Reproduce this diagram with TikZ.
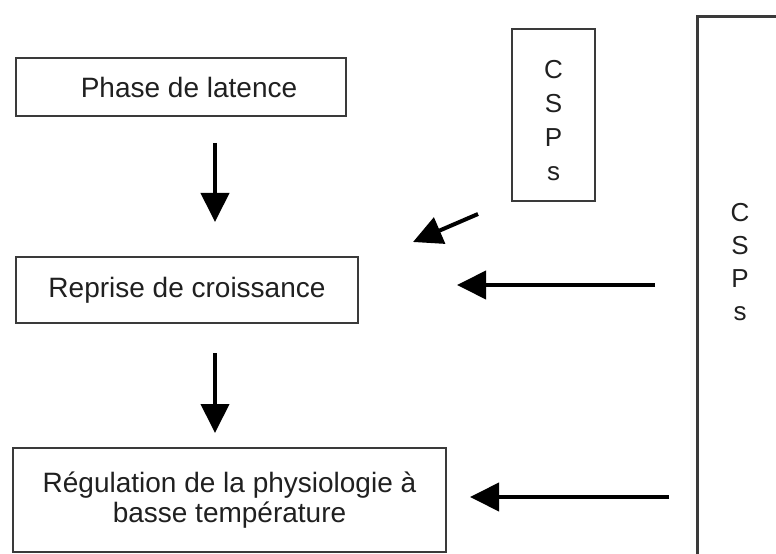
\documentclass[tikz,border=0pt]{standalone}
\usepackage{fontspec}
\setmainfont{Liberation Sans}
\usetikzlibrary{arrows.meta}
\definecolor{ink}{HTML}{202020}
\definecolor{edge}{HTML}{3A3A3A}
\begin{document}
\begin{tikzpicture}[x=1bp,y=-1bp,
  every node/.style={text=ink,font=\fontsize{28bp}{30bp}\selectfont},
  stagebox/.style={draw=edge,line width=2bp,inner sep=0pt,align=center},
  letters/.style={align=center,inner sep=0pt,font=\fontsize{26bp}{34bp}\selectfont},
  flow/.style={draw=black,line width=4bp,
    -{Triangle[length=29bp,width=28bp]}}]
  \useasboundingbox[fill=white] (0,0) rectangle (776,554);
  \clip (0,0) rectangle (776,554);

  % stages of the growth sequence
  \node[stagebox,minimum width=330bp,minimum height=58bp] (latence) at (181,87)
    {\hspace{16bp}Phase de latence};
  \node[stagebox,minimum width=342bp,minimum height=66bp] (reprise) at (187,290)
    {Reprise de croissance};
  \node[stagebox,minimum width=433bp,minimum height=104bp] (regulation) at (229.5,500)
    {Régulation de la physiologie à\\basse température};

  % CSPs boxes
  \node[draw=edge,line width=2bp,minimum width=83bp,minimum height=172bp] (cspsA)
    at (553.5,115) {};
  \node[letters] (cspsAtext) at (553.5,121) {C\\S\\P\\s};
  \node[draw=edge,line width=3bp,minimum width=120bp,minimum height=580bp,
    anchor=north west] (cspsB) at (696,15) {};
  \node[letters,font=\fontsize{26bp}{33bp}\selectfont] (cspsBtext) at (740,262)
    {C\\S\\P\\s};

  % arrow end points
  \coordinate (v1a) at (215,143);
  \coordinate (v1b) at (215,222);
  \coordinate (v2a) at (215,353);
  \coordinate (v2b) at (215,433);
  \coordinate (d1a) at (478,214);
  \coordinate (d1b) at (413,242);
  \coordinate (h1a) at (655,285);
  \coordinate (h1b) at (457,285);
  \coordinate (h2a) at (669,497);
  \coordinate (h2b) at (470,497);

  \draw[flow] (v1a) -- (v1b);
  \draw[flow] (v2a) -- (v2b);
  \draw[flow] (d1a) -- (d1b);
  \draw[flow] (h1a) -- (h1b);
  \draw[flow] (h2a) -- (h2b);
\end{tikzpicture}
\end{document}
